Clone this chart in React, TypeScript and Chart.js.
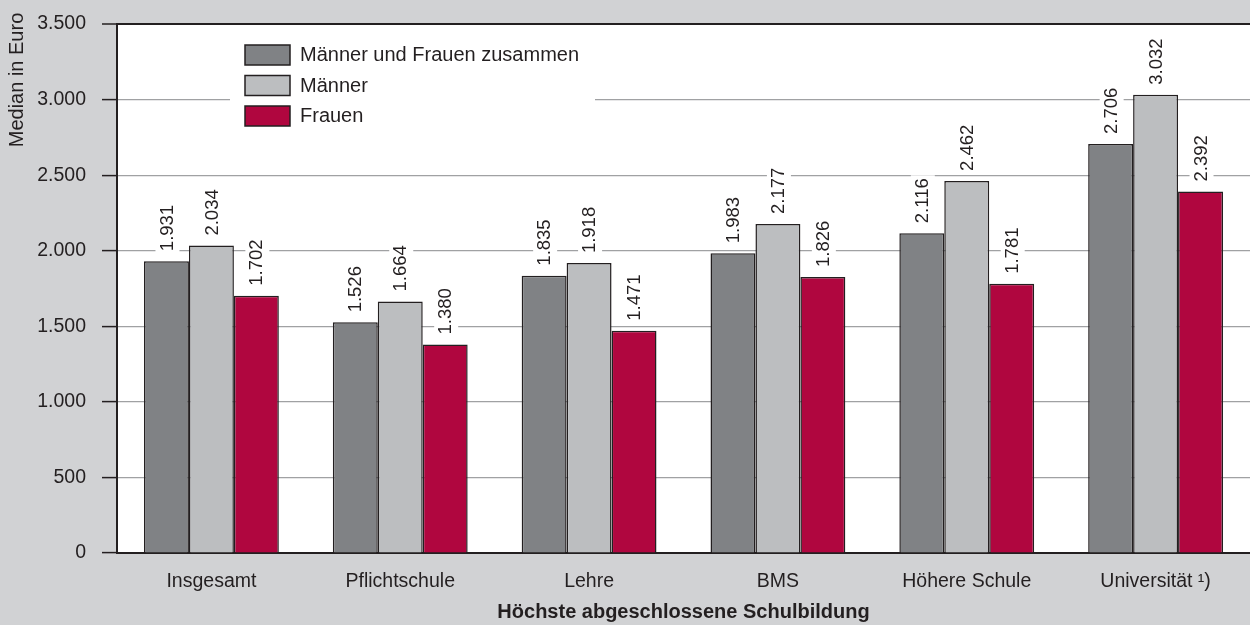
import React, { useEffect, useRef } from "react";
import { Chart, registerables } from "chart.js";

Chart.register(...registerables);

const categories = ["Insgesamt", "Pflichtschule", "Lehre", "BMS", "Höhere Schule", "Universität ¹)"];
const seriesNames = ["Männer und Frauen zusammen", "Männer", "Frauen"];
const zusammen = [1931, 1526, 1835, 1983, 2116, 2706];
const maenner = [2034, 1664, 1918, 2177, 2462, 3032];
const frauen = [1702, 1380, 1471, 1826, 1781, 2392];
const seriesColors = ["#808285", "#bcbec0", "#b0063f"];
const yTitle = "Median in Euro";
const xTitle = "Höchste abgeschlossene Schulbildung";

const FONT = "'Liberation Sans', Arial, sans-serif";
const TEXT = "#231f20";

function fmt(v: number): string {
  const n = Math.round(v);
  if (n < 1000) return String(n);
  const th = Math.floor(n / 1000);
  const rest = String(n % 1000).padStart(3, "0");
  return th + "." + rest;
}

const bgPlugin = {
  id: "bgPlugin",
  beforeDraw(chart: any) {
    const { ctx, width, height, chartArea } = chart;
    ctx.save();
    ctx.fillStyle = "#d1d2d4";
    ctx.fillRect(0, 0, width, height);
    ctx.fillStyle = "#ffffff";
    ctx.fillRect(chartArea.left, chartArea.top, chartArea.right - chartArea.left, chartArea.bottom - chartArea.top);
    ctx.restore();
  },
};

const legendPlugin = {
  id: "legendPlugin",
  beforeDatasetsDraw(chart: any) {
    const { ctx } = chart;
    ctx.save();
    ctx.fillStyle = "#ffffff";
    ctx.fillRect(230, 35, 365, 100);
    ctx.font = `20px ${FONT}`;
    ctx.textBaseline = "middle";
    ctx.textAlign = "left";
    chart.data.datasets.forEach((ds: any, i: number) => {
      const y = 45 + i * 30.5;
      ctx.fillStyle = ds.backgroundColor;
      ctx.fillRect(245, y, 45, 20);
      ctx.strokeStyle = TEXT;
      ctx.lineWidth = 1.5;
      ctx.strokeRect(245, y, 45, 20);
      ctx.fillStyle = TEXT;
      ctx.fillText(ds.label, 300, y + 10.5);
    });
    // y axis title
    ctx.translate(17, 80);
    ctx.rotate(-Math.PI / 2);
    ctx.textAlign = "center";
    ctx.fillText(yTitle, 0, 0);
    ctx.restore();
  },
};

const valueLabelPlugin = {
  id: "valueLabelPlugin",
  afterDatasetsDraw(chart: any) {
    const { ctx } = chart;
    ctx.save();
    ctx.font = `18.5px ${FONT}`;
    ctx.textBaseline = "middle";
    ctx.textAlign = "left";
    chart.data.datasets.forEach((ds: any, i: number) => {
      const meta = chart.getDatasetMeta(i);
      meta.data.forEach((el: any, j: number) => {
        const txt = fmt(ds.data[j]);
        const w = ctx.measureText(txt).width;
        ctx.save();
        ctx.translate(el.x + 1, el.y - 10);
        ctx.rotate(-Math.PI / 2);
        ctx.fillStyle = "#ffffff";
        ctx.fillRect(-3, -12, w + 6, 24);
        ctx.fillStyle = TEXT;
        ctx.fillText(txt, 0, 0);
        ctx.restore();
      });
    });
    ctx.restore();
  },
};

export default function App() {
  const ref = useRef<HTMLCanvasElement | null>(null);

  useEffect(() => {
    if (!ref.current) return;
    const data = [zusammen, maenner, frauen];
    const chart = new Chart(ref.current, {
      type: "bar",
      data: {
        labels: categories,
        datasets: seriesNames.map((name, i) => ({
          label: name,
          data: data[i],
          backgroundColor: seriesColors[i],
          borderColor: TEXT,
          borderWidth: 1.5,
          categoryPercentage: 0.714,
          barPercentage: 1,
        })),
      },
      options: {
        responsive: false,
        animation: false,
        layout: { padding: { top: 24, right: 0, left: 0, bottom: 0 } },
        plugins: {
          legend: { display: false },
          tooltip: { enabled: false },
        },
        scales: {
          x: {
            grid: { display: false },
            border: { display: true, color: TEXT, width: 2 },
            ticks: {
              color: TEXT,
              font: { family: FONT, size: 19.5 },
              padding: 9,
              maxRotation: 0,
              autoSkip: false,
            },
            title: {
              display: true,
              text: xTitle,
              color: TEXT,
              font: { family: FONT, size: 20, weight: "bold" },
              padding: { top: 0, bottom: 1 },
            },
            afterFit(scale: any) {
              scale.height = 72;
              scale.paddingLeft = 0;
              scale.paddingRight = 0;
            },
          },
          y: {
            min: 0,
            max: 3500,
            ticks: {
              stepSize: 500,
              color: TEXT,
              font: { family: FONT, size: 19.5 },
              padding: 16,
              callback: (v: any) => fmt(Number(v)),
            },
            grid: {
              color: (c: any) => (c.tick && (c.tick.value === 3500 || c.tick.value === 0) ? TEXT : "#a0a1a3"),
              lineWidth: (c: any) => (c.tick && c.tick.value === 3500 ? 2 : 1.2),
              tickColor: TEXT,
              tickLength: 15,
              tickWidth: 1.5,
            },
            border: { display: true, color: TEXT, width: 2 },
            afterFit(scale: any) {
              scale.width = 117;
              scale.paddingTop = 0;
              scale.paddingBottom = 0;
            },
          },
        },
      },
      plugins: [bgPlugin, legendPlugin, valueLabelPlugin],
    });
    return () => chart.destroy();
  }, []);

  return (
    <div style={{ position: "fixed", left: 0, top: 0, width: 1250, height: 625 }}>
      <canvas ref={ref} width={1250} height={625} style={{ display: "block", width: 1250, height: 625 }} />
    </div>
  );
}
